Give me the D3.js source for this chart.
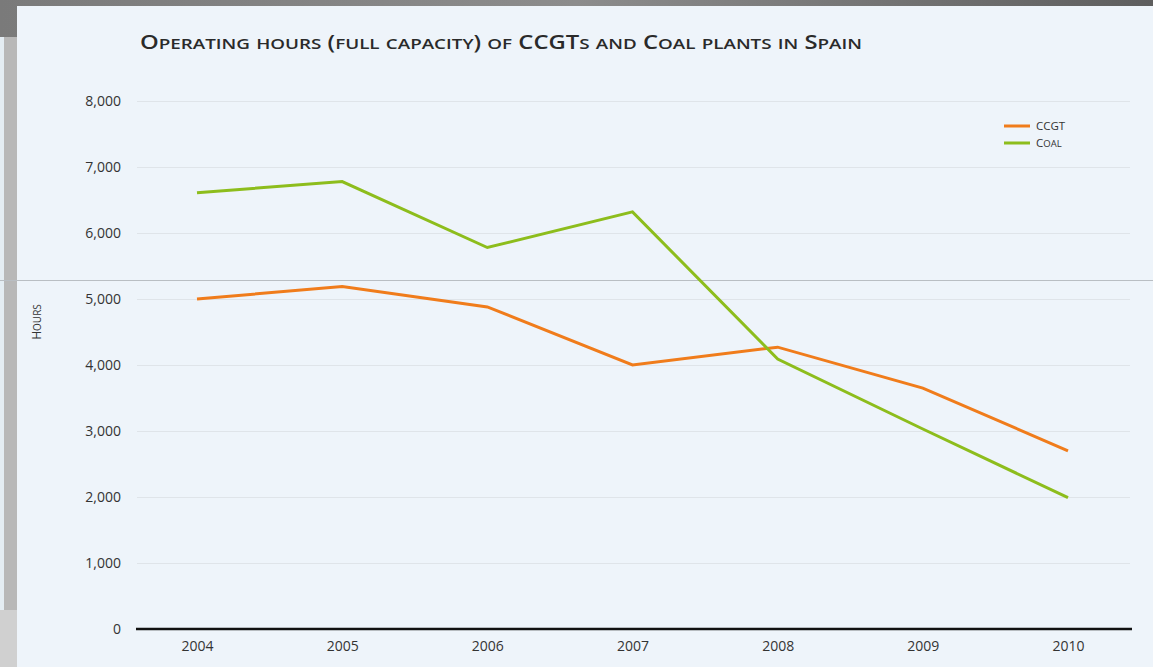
<!DOCTYPE html>
<html>
<head>
<meta charset="utf-8">
<script src="https://cdn.jsdelivr.net/npm/d3@7"></script>
<style>
  html, body { margin: 0; padding: 0; background: #6f6f6f; }
  svg { display: block; }
  text { font-family: "Open Sans", "Noto Sans", sans-serif; }
</style>
</head>
<body>
<svg id="chart" width="1153" height="667"></svg>
<script>
const years = ["2004", "2005", "2006", "2007", "2008", "2009", "2010"];
const ccgt = [5000, 5190, 4880, 4000, 4270, 3650, 2700];
const coal = [6610, 6780, 5780, 6320, 4090, 3030, 1990];
const yTicks = [0, 1000, 2000, 3000, 4000, 5000, 6000, 7000, 8000];
const seriesNames = ["CCGT", "Coal"];
const seriesColors = ["#f07c1b", "#8dbd1c"];
const titleText = "Operating hours (full capacity) of CCGTs and Coal plants in Spain";
const yTitle = "Hours";

const svg = d3.select("#chart");
const W = 1153, H = 667;

// manual small caps: uppercase at full size, lowercase rendered as smaller capitals
function smallCaps(sel, str, big, small) {
  const runs = [];
  for (const ch of str) {
    const isLower = ch !== ch.toUpperCase();
    const last = runs[runs.length - 1];
    if (last && last.lower === isLower) last.t += ch; else runs.push({ t: ch, lower: isLower });
  }
  runs.forEach(r => {
    sel.append("tspan").attr("font-size", r.lower ? small : big).text(r.lower ? r.t.toUpperCase() : r.t);
  });
}

// frame / background
const defs = svg.append("defs");
const g1 = defs.append("linearGradient").attr("id", "topg").attr("x1", 0).attr("x2", 1);
g1.append("stop").attr("offset", "0%").attr("stop-color", "#7a7a7a");
g1.append("stop").attr("offset", "50%").attr("stop-color", "#8c8c8c");
g1.append("stop").attr("offset", "100%").attr("stop-color", "#5e5e5e");
svg.append("rect").attr("x", 0).attr("y", 0).attr("width", W).attr("height", H).attr("fill", "url(#topg)");
svg.append("rect").attr("x", 0).attr("y", 37).attr("width", 17).attr("height", 573).attr("fill", "#b8b8b8");
svg.append("rect").attr("x", 0).attr("y", 37).attr("width", 4).attr("height", 573).attr("fill", "#e4edf3");
svg.append("rect").attr("x", 0).attr("y", 610).attr("width", 17).attr("height", 57).attr("fill", "#d0d0d0");
svg.append("rect").attr("x", 17).attr("y", 6).attr("width", W - 17).attr("height", H - 6).attr("fill", "#eef4fa");

const x = d3.scalePoint().domain(years).range([197, 1068]);
const y = d3.scaleLinear().domain([0, 8000]).range([629, 101]);

// gridlines
svg.append("g")
  .selectAll("line").data(yTicks.filter(d => d > 0)).join("line")
  .attr("x1", 137).attr("x2", 1130)
  .attr("y1", d => y(d) + 0.5).attr("y2", d => y(d) + 0.5)
  .attr("stroke", "#dfe4e9").attr("stroke-width", 1);

// y axis labels
const yAxis = d3.axisLeft(y).tickValues(yTicks).tickFormat(d3.format(",")).tickSize(0).tickPadding(0);
const ya = svg.append("g").attr("transform", "translate(121,0)").call(yAxis);
ya.select(".domain").remove();
ya.selectAll("text").attr("font-size", 14).attr("fill", "#333").attr("font-family", "Open Sans, sans-serif");

// x axis
const xAxis = d3.axisBottom(x).tickSize(0).tickPadding(12);
const xa = svg.append("g").attr("transform", "translate(0,629)").call(xAxis);
xa.select(".domain").remove();
xa.selectAll("text").attr("font-size", 14).attr("fill", "#333").attr("font-family", "Open Sans, sans-serif");
svg.append("line").attr("x1", 136).attr("x2", 1132).attr("y1", 629).attr("y2", 629)
  .attr("stroke", "#111").attr("stroke-width", 2.5);

// artefact line across
svg.append("line").attr("x1", 0).attr("x2", W).attr("y1", 280.5).attr("y2", 280.5)
  .attr("stroke", "#b9bec3").attr("stroke-width", 1);

// lines
const line = d3.line().x((d, i) => x(years[i])).y(d => y(d));
[ccgt, coal].forEach((vals, k) => {
  svg.append("path").datum(vals).attr("d", line)
    .attr("fill", "none").attr("stroke", seriesColors[k]).attr("stroke-width", 3)
    .attr("stroke-linejoin", "miter");
});

// title
const tt = svg.append("text").attr("x", 140).attr("y", 49)
  .attr("font-weight", 600).attr("fill", "#2a2a2a")
  .attr("textLength", 722).attr("lengthAdjust", "spacingAndGlyphs");
smallCaps(tt, titleText, 19, 15);

// y title
const yt = svg.append("text").attr("transform", "translate(41,322) rotate(-90)")
  .attr("text-anchor", "middle").attr("fill", "#333");
smallCaps(yt, yTitle, 12, 10);

// legend
const leg = svg.append("g");
seriesNames.forEach((n, k) => {
  const ly = 126 + k * 17;
  leg.append("line").attr("x1", 1004).attr("x2", 1030).attr("y1", ly).attr("y2", ly)
    .attr("stroke", seriesColors[k]).attr("stroke-width", 3);
  const t = leg.append("text").attr("x", 1036).attr("y", ly + 4).attr("fill", "#333");
  smallCaps(t, n, 11.5, 9.5);
});
</script>
</body>
</html>
